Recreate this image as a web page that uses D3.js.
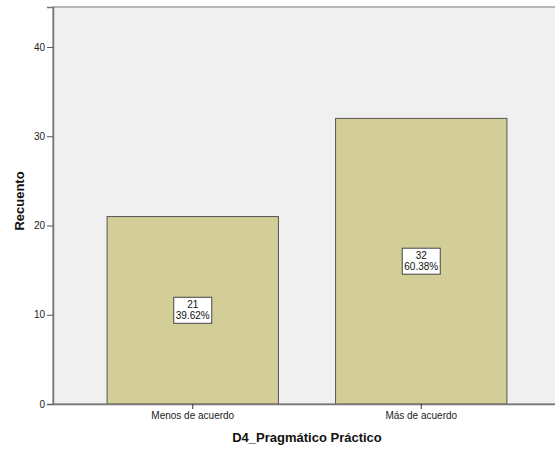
<!DOCTYPE html>
<html><head><meta charset="utf-8">
<script src="https://cdn.jsdelivr.net/npm/d3@7"></script>
<style>body{margin:0;background:#fff}svg{display:block;font-family:"Liberation Sans",Arial,sans-serif}</style>
</head><body>
<svg id="c" width="555" height="450"></svg>
<script>
const categories = ["Menos de acuerdo", "Más de acuerdo"];
const counts = [21, 32];
const percents = ["39.62%", "60.38%"];
const yTicks = [0, 10, 20, 30, 40];
const xTitle = "D4_Pragmático Práctico";
const yTitle = "Recuento";

const svg = d3.select("#c");
const L = 53, R = 561, T = 7, B = 404;

const x = d3.scaleBand().domain(categories).range([L, R]).paddingInner(0.25).paddingOuter(0.2366);
const y = d3.scaleLinear().domain([0, 44.48]).range([B, T]);

svg.append("rect").attr("x", L).attr("y", T).attr("width", R - L).attr("height", B - T)
  .attr("fill", "#f0f0f0").attr("stroke", "#8c8c8c").attr("stroke-width", 1.2);

svg.selectAll("rect.bar").data(categories).enter().append("rect").attr("class", "bar")
  .attr("x", d => x(d)).attr("width", x.bandwidth())
  .attr("y", (d, i) => y(counts[i])).attr("height", (d, i) => B - y(counts[i]))
  .attr("fill", "#d3ce98").attr("stroke", "#555").attr("stroke-width", 1);

// axes
const ya = svg.append("g").attr("transform", `translate(${L},0)`)
  .call(d3.axisLeft(y).tickValues(yTicks).tickSize(6).tickPadding(2).tickFormat(d3.format("d")));
ya.select(".domain").attr("stroke", "#777").attr("stroke-width", 1.5);
ya.selectAll(".tick line").attr("stroke", "#555");
ya.selectAll(".tick text").attr("font-size", 10).attr("fill", "#222").attr("font-family", "Liberation Sans, Arial, sans-serif");

const xa = svg.append("g").attr("transform", `translate(0,${B})`)
  .call(d3.axisBottom(x).tickSize(5).tickPadding(3).tickSizeOuter(0));
xa.select(".domain").attr("stroke", "#777").attr("stroke-width", 1.5);
xa.selectAll(".tick line").attr("stroke", "#333");
xa.selectAll(".tick text").attr("font-size", 10).attr("fill", "#222").attr("font-family", "Liberation Sans, Arial, sans-serif");

// labels
categories.forEach((c, i) => {
  const cx = x(c) + x.bandwidth() / 2;
  const cy = (y(counts[i]) + B) / 2;
  const g = svg.append("g");
  g.append("rect").attr("x", cx - 19).attr("y", cy - 13).attr("width", 38).attr("height", 26)
    .attr("fill", "#fff").attr("stroke", "#444").attr("stroke-width", 1);
  g.append("text").attr("x", cx).attr("y", cy - 2).attr("text-anchor", "middle")
    .attr("font-size", 10).attr("fill", "#111").text(counts[i]);
  g.append("text").attr("x", cx).attr("y", cy + 9).attr("text-anchor", "middle")
    .attr("font-size", 10).attr("fill", "#111").text(percents[i]);
});

svg.append("text").attr("x", (L + R) / 2).attr("y", 442).attr("text-anchor", "middle")
  .attr("font-size", 13).attr("font-weight", "bold").attr("fill", "#111").text(xTitle);
svg.append("text").attr("transform", `translate(24,201) rotate(-90)`)
  .attr("text-anchor", "middle").attr("font-size", 13).attr("font-weight", "bold").attr("fill", "#111").text(yTitle);
</script>
</body></html>
